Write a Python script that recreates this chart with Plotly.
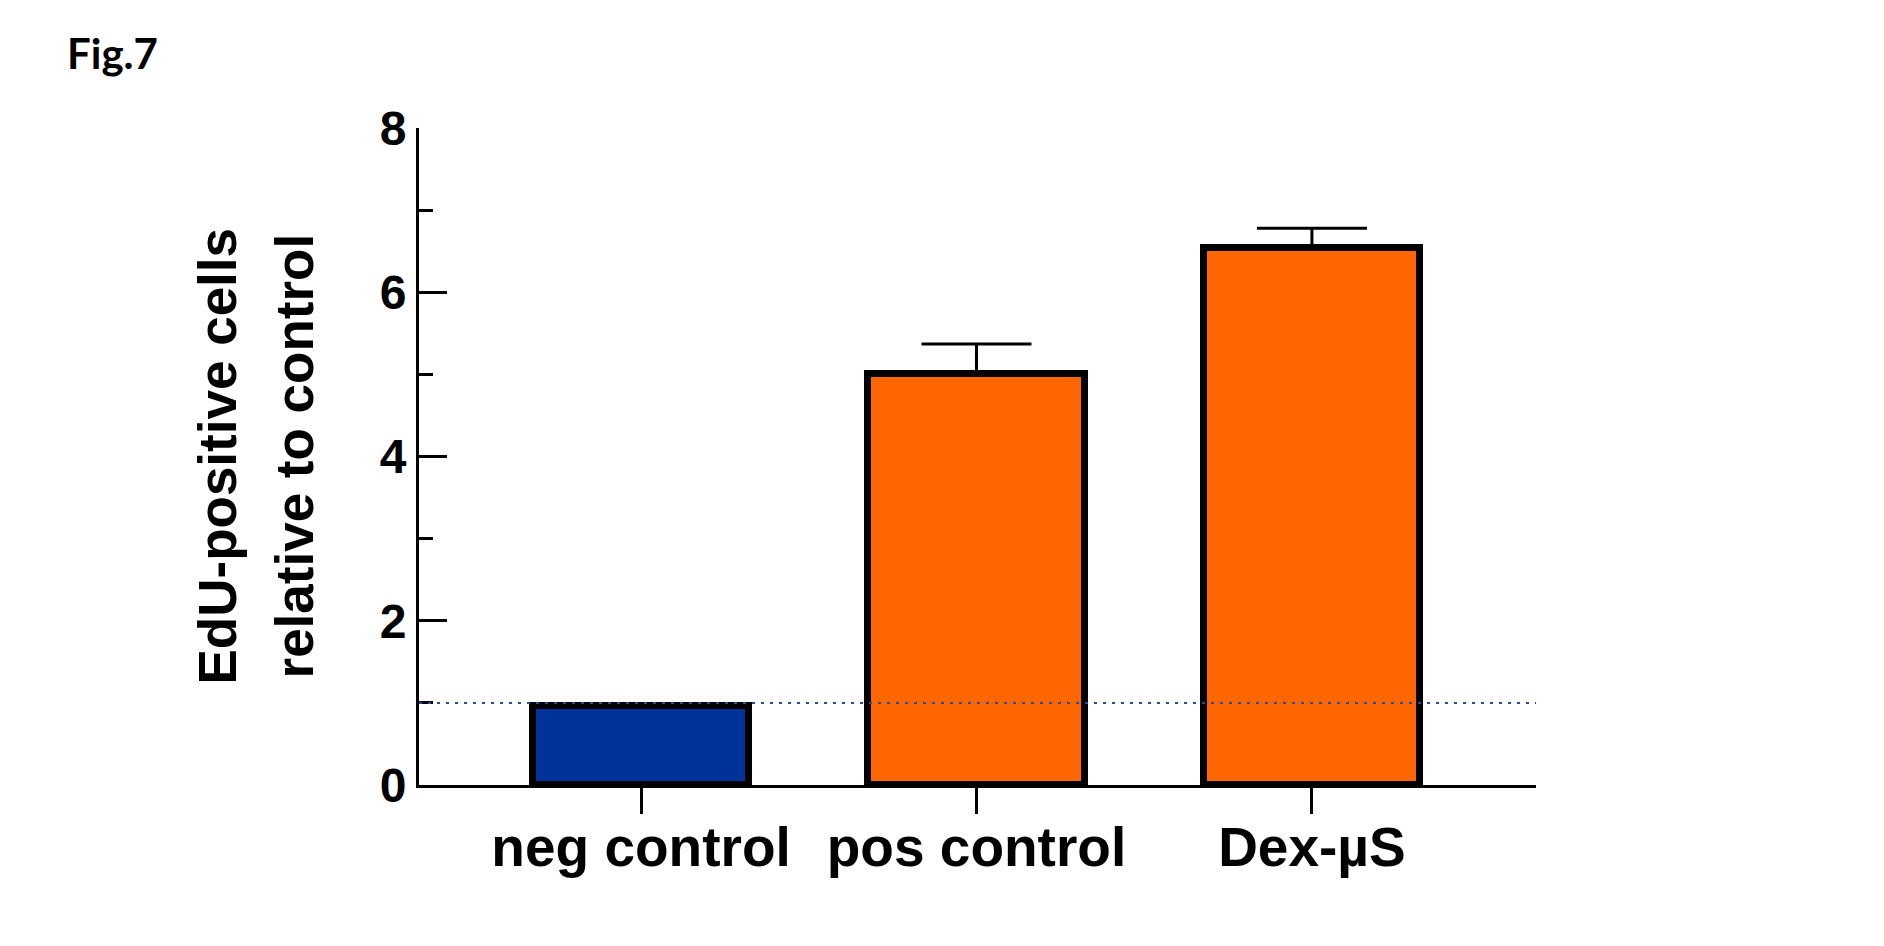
import plotly.graph_objects as go

# Data: EdU-positive cells relative to control (mean + upper SD)
groups = ["neg control", "pos control", "Dex-µS"]
means = [0.96, 5.00, 6.54]
errors_up = [0.02, 0.37, 0.24]
bar_colors = ["#003399", "#FF6600", "#FF6600"]
y_ticks = [0, 2, 4, 6, 8]
reference_level = 1.0
y_title_lines = ["EdU-positive cells", "relative to control"]

FONT = "Liberation Sans, Arial, Helvetica, sans-serif"
PLOT_L, PLOT_R, PLOT_T, PLOT_B = 419, 1536, 128, 785


def px_to_paper_x(px):
    return (px - PLOT_L) / (PLOT_R - PLOT_L)


def px_to_paper_y(px):
    return (PLOT_B - px) / (PLOT_B - PLOT_T)


fig = go.Figure()

fig.add_trace(go.Bar(
    x=list(range(len(groups))),
    y=means,
    width=0.645,
    marker=dict(color=bar_colors, line=dict(color="black", width=7)),
    error_y=dict(
        type="data",
        symmetric=False,
        array=errors_up,
        arrayminus=[0] * len(errors_up),
        color="black",
        thickness=3,
        width=55,
    ),
    showlegend=False,
))

# dotted reference line at the control level
fig.add_shape(
    type="line", xref="paper", yref="y",
    x0=0, x1=1, y0=reference_level, y1=reference_level,
    line=dict(color="#2B4C9B", width=2, dash="3px,6px"),
    layer="above",
)

annotations = []
# two-line rotated y-axis title, one annotation per line
for line_text, cx in zip(y_title_lines, [217, 294]):
    annotations.append(dict(
        text=line_text,
        xref="paper", yref="paper",
        x=px_to_paper_x(cx), y=0.5,
        xanchor="center", yanchor="middle",
        textangle=-90, showarrow=False,
        font=dict(size=53, family=FONT, weight="bold", color="black"),
    ))
annotations.append(dict(
    text="Fig.7",
    xref="paper", yref="paper",
    x=px_to_paper_x(65), y=px_to_paper_y(53),
    xanchor="left", yanchor="middle",
    showarrow=False,
    font=dict(size=42, family="Lato, Open Sans, sans-serif", weight="bold", color="black"),
))

fig.update_layout(
    width=1884, height=946,
    margin=dict(l=PLOT_L, r=1884 - PLOT_R, t=PLOT_T, b=946 - PLOT_B),
    plot_bgcolor="white", paper_bgcolor="white",
    font=dict(family=FONT, color="black"),
    bargap=0,
    xaxis=dict(
        range=[-0.662, 2.668],
        tickmode="array",
        tickvals=list(range(len(groups))),
        ticktext=groups,
        showline=True, linecolor="black", linewidth=3,
        ticks="outside", ticklen=26, tickwidth=3, tickcolor="black",
        tickfont=dict(size=55, family=FONT, weight="bold", color="black"),
        ticklabelstandoff=-14,
        showgrid=False, zeroline=False,
    ),
    yaxis=dict(
        range=[0, 8],
        tickmode="array",
        tickvals=y_ticks,
        showline=True, linecolor="black", linewidth=3,
        ticks="inside", ticklen=28, tickwidth=3, tickcolor="black",
        minor=dict(dtick=1, ticks="inside", ticklen=14, tickwidth=3, tickcolor="black"),
        tickfont=dict(size=48, family=FONT, weight="bold", color="black"),
        showgrid=False, zeroline=False,
    ),
    annotations=annotations,
)

fig.write_html("out.html")
